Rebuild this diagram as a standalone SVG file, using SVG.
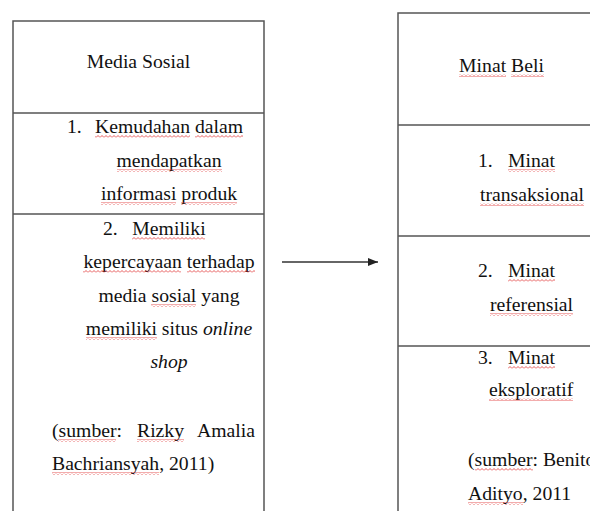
<svg xmlns="http://www.w3.org/2000/svg" width="590" height="511" viewBox="0 0 590 511">
<style>
.box{fill:none;stroke:#555;stroke-width:1.5}
.div{stroke:#555;stroke-width:1.5}
.t{font-family:"Liberation Serif","Times New Roman",serif;font-size:19.7px;fill:#111}
.c{text-anchor:middle}
.e{text-anchor:end}
.i{font-style:italic}
.w{fill:url(#wave)}
</style>
<defs>
<pattern id="wave" width="4" height="3" patternUnits="userSpaceOnUse">
<path d="M0,2.5 L2,0.5 L4,2.5" fill="none" stroke="#e03030" stroke-width="0.8"/>
</pattern>
<marker id="arr" markerWidth="10" markerHeight="8" refX="10" refY="4" orient="auto" markerUnits="userSpaceOnUse">
<path d="M0,0 L10,4 L0,8 Z" fill="#222"/>
</marker>
</defs>
<rect width="590" height="511" fill="#fff"/>

<g id="media-sosial">
<path class="box" d="M13,511 V21 H264 V511"/>
<line class="div" x1="13" y1="113" x2="264" y2="113"/>
<line class="div" x1="13" y1="214" x2="264" y2="214"/>
<text class="t c" x="138.5" y="68">Media Sosial</text>
<text class="t" x="67" y="133">1.</text>
<text class="t c" x="169" y="133">Kemudahan dalam</text>
<text class="t c" x="169" y="167">mendapatkan</text>
<text class="t c" x="169" y="200">informasi produk</text>
<text class="t" x="103" y="235">2.</text>
<text class="t c" x="169" y="235">Memiliki</text>
<text class="t c" x="169" y="268">kepercayaan terhadap</text>
<text class="t c" x="169" y="302">media sosial yang</text>
<text class="t c" x="169" y="335">memiliki situs <tspan class="i">online</tspan></text>
<text class="t c i" x="169" y="368">shop</text>
<text class="t" x="52" y="437">(sumber:</text>
<text class="t" x="137" y="437">Rizky</text>
<text class="t e" x="255" y="437">Amalia</text>
<text class="t" x="52" y="470">Bachriansyah, 2011)</text>
<rect class="w" x="95" y="135" width="95" height="3"/>
<rect class="w" x="195" y="135" width="48" height="3"/>
<rect class="w" x="117" y="169" width="105" height="3"/>
<rect class="w" x="101" y="202" width="75" height="3"/>
<rect class="w" x="181" y="202" width="56" height="3"/>
<rect class="w" x="132" y="237" width="73" height="3"/>
<rect class="w" x="83" y="270" width="98" height="3"/>
<rect class="w" x="187" y="270" width="68" height="3"/>
<rect class="w" x="151" y="304" width="45" height="3"/>
<rect class="w" x="86" y="337" width="71" height="3"/>
<rect class="w" x="58" y="439" width="58" height="3"/>
<rect class="w" x="137" y="439" width="47" height="3"/>
<rect class="w" x="52" y="472" width="107" height="3"/>
</g>

<g id="minat-beli">
<path class="box" d="M398,511 V13 H600"/>
<line class="div" x1="398" y1="125" x2="600" y2="125"/>
<line class="div" x1="398" y1="236" x2="600" y2="236"/>
<line class="div" x1="398" y1="346" x2="600" y2="346"/>
<text class="t c" x="501.5" y="72">Minat Beli</text>
<text class="t" x="478" y="167">1.</text>
<text class="t" x="508" y="167">Minat</text>
<text class="t" x="480" y="201">transaksional</text>
<text class="t" x="478" y="277">2.</text>
<text class="t" x="508" y="277">Minat</text>
<text class="t" x="490" y="311">referensial</text>
<text class="t" x="478" y="364">3.</text>
<text class="t" x="508" y="364">Minat</text>
<text class="t" x="489" y="396">eksploratif</text>
<text class="t" x="468" y="466">(sumber: Benito</text>
<text class="t" x="468" y="500">Adityo, 2011</text>
<rect class="w" x="459" y="74" width="47" height="3"/>
<rect class="w" x="511" y="74" width="33" height="3"/>
<rect class="w" x="508" y="169" width="47" height="3"/>
<rect class="w" x="480" y="203" width="104" height="3"/>
<rect class="w" x="508" y="279" width="47" height="3"/>
<rect class="w" x="490" y="313" width="83" height="3"/>
<rect class="w" x="508" y="366" width="47" height="3"/>
<rect class="w" x="489" y="398" width="84" height="3"/>
<rect class="w" x="475" y="468" width="58" height="3"/>
<rect class="w" x="468" y="502" width="55" height="3"/>
</g>

<g id="connectors">
<line x1="282" y1="262" x2="378" y2="262" stroke="#333" stroke-width="1.3" marker-end="url(#arr)"/>
</g>
</svg>
